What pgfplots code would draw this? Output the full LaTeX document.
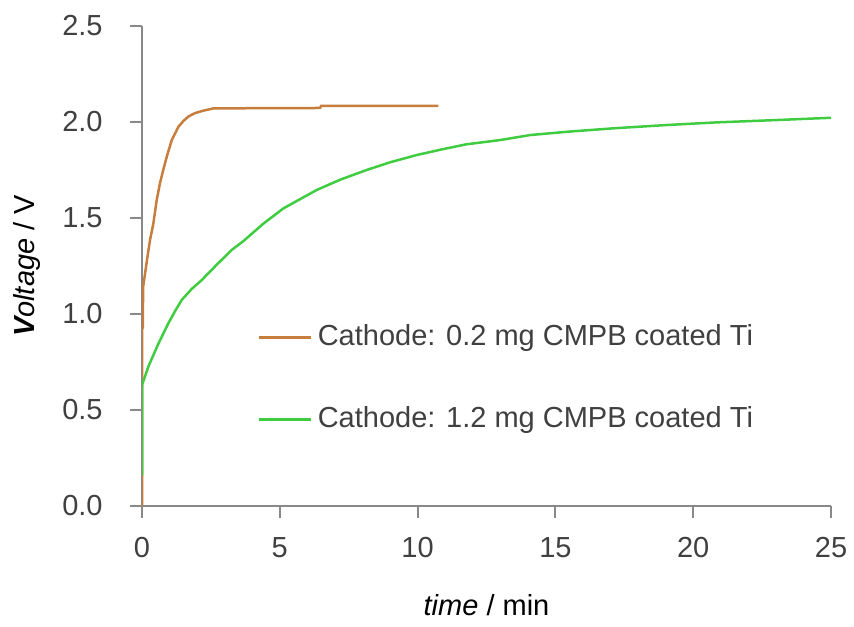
\documentclass[border=0pt]{standalone}
\usepackage{pgfplots}
\pgfplotsset{compat=1.18}
\usepackage{fontspec}
\setmainfont{Liberation Sans}
\definecolor{axisgray}{RGB}{137,137,137}
\definecolor{labelgray}{RGB}{64,64,64}
\definecolor{cmpborange}{RGB}{199,125,60}
\definecolor{cmpbgreen}{RGB}{64,204,64}

\pgfplotstableread{
t V
0 0
0 0.92
0.03 0.93
0.04 1.14
0.1 1.2
0.17 1.27
0.29 1.385
0.41 1.47
0.53 1.59
0.65 1.68
0.77 1.75
0.9 1.82
1.08 1.906
1.32 1.975
1.5 2.005
1.68 2.028
1.9 2.045
2.17 2.057
2.59 2.071
6.46 2.073
6.5 2.084
10.75 2.084
}\lowload

\pgfplotstableread{
t V
0 0.16
0 0.63
0.05 0.65
0.23 0.726
0.6 0.847
0.95 0.95
1.2 1.015
1.44 1.073
1.8 1.13
2.17 1.177
2.7 1.255
3.25 1.333
3.68 1.38
4.4 1.47
5.13 1.55
6.34 1.646
7.2 1.70
8.15 1.75
9.0 1.79
9.97 1.828
10.9 1.858
11.78 1.884
13.0 1.906
14.08 1.932
15.5 1.95
17.1 1.967
19.0 1.984
20.85 1.998
23.0 2.01
25.0 2.022
}\highload

\begin{document}
\begin{tikzpicture}[font=\fontsize{14.5}{17}\selectfont]
	\begin{axis}[
		scale only axis,
		width=344.5pt,
		height=240pt,
		xmin=0, xmax=25,
		ymin=0, ymax=2.5,
		xtick={0,5,...,25},
		ytick={0,0.5,...,2.5},
		axis x line*=bottom,
		axis y line*=left,
		axis line style={axisgray, line width=1pt},
		tick style={axisgray, line width=1pt},
		tick align=outside,
		major tick length=6pt,
		/pgf/number format/assume math mode=true,
		yticklabel style={/pgf/number format/.cd, fixed, fixed zerofill, precision=1},
		ticklabel style={labelgray, inner sep=0pt},
		xticklabel shift=9.5pt,
		yticklabel shift=13.5pt,
		xlabel={\textit{time} / min},
		ylabel={\textit{\textbf{V}oltage} / V},
		x label style={at={(axis description cs:0.5,-0.228)}, anchor=base, inner sep=0pt},
		y label style={at={(axis description cs:-0.187,0.5)}, anchor=north, inner sep=0pt},
		legend style={
			draw=none, fill=none,
			at={(axis description cs:0.158,0.388)}, anchor=north west,
			nodes={inner sep=0pt, text height=10.5pt, text depth=3pt, text=labelgray},
			row sep=27.5pt,
			column sep=3pt,
		},
		legend cell align=left,
		legend image code/.code={\draw[#1] (0pt,0pt) -- (26pt,0pt);},
	]
		\coordinate (sw) at (rel axis cs:0,0);
		\coordinate (ne) at (rel axis cs:1,1);
		\addplot[cmpborange, line width=1.25pt] table[x=t, y=V] {\lowload};
		\addlegendentry{Cathode: 0.2 mg CMPB coated Ti}
		\addplot[cmpbgreen, line width=1.25pt] table[x=t, y=V] {\highload};
		\addlegendentry{Cathode: 1.2 mg CMPB coated Ti}
	\end{axis}
	\pgfresetboundingbox
	\path[use as bounding box] ([xshift=-71pt,yshift=-60pt]sw) rectangle ([xshift=11.5pt,yshift=13pt]ne);
\end{tikzpicture}
\end{document}
